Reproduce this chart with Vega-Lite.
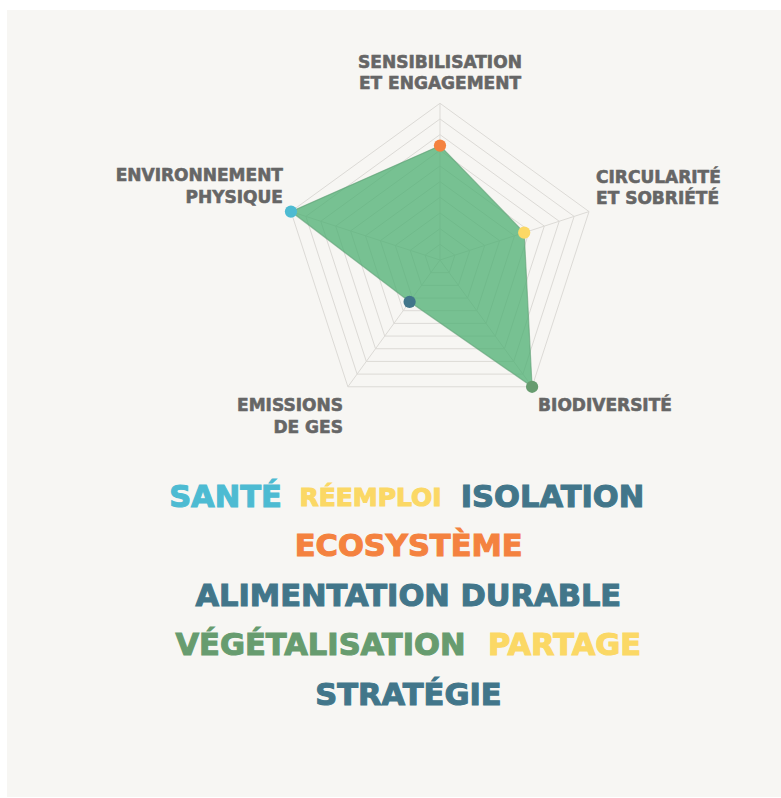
{
  "$schema": "https://vega.github.io/schema/vega-lite/v6.json",
  "width": 781,
  "height": 798,
  "autosize": {"type": "fit", "contains": "padding"},
  "padding": {"left": 7, "top": 10, "right": 0, "bottom": 1},
  "background": "#ffffff",
  "config": {"view": {"stroke": null, "fill": "#F7F6F3"}},
  "datasets": {
    "radar": [
      {"dimension": "Sensibilisation et engagement", "label": "SENSIBILISATION\nET ENGAGEMENT", "i": 0, "score": 7.3},
      {"dimension": "Circularité et sobriété", "label": "CIRCULARITÉ\nET SOBRIÉTÉ", "i": 1, "score": 5.65},
      {"dimension": "Biodiversité", "label": "BIODIVERSITÉ", "i": 2, "score": 10},
      {"dimension": "Emissions de GES", "label": "EMISSIONS\nDE GES", "i": 3, "score": 3.3},
      {"dimension": "Environnement physique", "label": "ENVIRONNEMENT\nPHYSIQUE", "i": 4, "score": 10}
    ],
    "rings": [
      {"i": 0, "levels": [1, 2, 3, 4, 5, 6, 7, 8, 9, 10]},
      {"i": 1, "levels": [1, 2, 3, 4, 5, 6, 7, 8, 9, 10]},
      {"i": 2, "levels": [1, 2, 3, 4, 5, 6, 7, 8, 9, 10]},
      {"i": 3, "levels": [1, 2, 3, 4, 5, 6, 7, 8, 9, 10]},
      {"i": 4, "levels": [1, 2, 3, 4, 5, 6, 7, 8, 9, 10]}
    ],
    "words": [
      {"word": "SANTÉ", "dimension": "Environnement physique", "line": 1, "wx": 28.23, "weight": 3},
      {"word": "RÉEMPLOI", "dimension": "Circularité et sobriété", "line": 1, "wx": 46.96, "weight": 2},
      {"word": "ISOLATION", "dimension": "Emissions de GES", "line": 1, "wx": 70.48, "weight": 3},
      {"word": "ECOSYSTÈME", "dimension": "Sensibilisation et engagement", "line": 2, "wx": 51.9, "weight": 3},
      {"word": "ALIMENTATION DURABLE", "dimension": "Emissions de GES", "line": 3, "wx": 51.85, "weight": 3},
      {"word": "VÉGÉTALISATION", "dimension": "Biodiversité", "line": 4, "wx": 40.5, "weight": 3},
      {"word": "PARTAGE", "dimension": "Circularité et sobriété", "line": 4, "wx": 72.03, "weight": 3},
      {"word": "STRATÉGIE", "dimension": "Emissions de GES", "line": 5, "wx": 51.87, "weight": 3}
    ]
  },
  "resolve": {"scale": {"x": "independent", "y": "independent"}},
  "layer": [
    {
      "encoding": {
        "x": {"type": "quantitative", "scale": {"domain": [-27.632, 21.762], "nice": false, "zero": false}, "axis": null},
        "y": {"type": "quantitative", "scale": {"domain": [-34.269, 15.954], "nice": false, "zero": false}, "axis": null}
      },
      "layer": [
        {
          "data": {"name": "rings"},
          "transform": [
            {"flatten": ["levels"], "as": ["level"]},
            {"calculate": "datum.level * sin(datum.i * 2 * PI / 5)", "as": "x"},
            {"calculate": "datum.level * cos(datum.i * 2 * PI / 5)", "as": "y"}
          ],
          "mark": {"type": "line", "interpolate": "linear-closed", "stroke": "#dcdad6", "strokeWidth": 1},
          "encoding": {
            "x": {"field": "x", "type": "quantitative"},
            "y": {"field": "y", "type": "quantitative"},
            "detail": {"field": "level", "type": "nominal"},
            "order": {"field": "i", "type": "quantitative"}
          }
        },
        {
          "data": {"name": "radar"},
          "transform": [
            {"calculate": "10 * sin(datum.i * 2 * PI / 5)", "as": "ex"},
            {"calculate": "10 * cos(datum.i * 2 * PI / 5)", "as": "ey"}
          ],
          "mark": {"type": "rule", "stroke": "#dcdad6", "strokeWidth": 1},
          "encoding": {
            "x": {"field": "ex", "type": "quantitative"},
            "y": {"field": "ey", "type": "quantitative"},
            "x2": {"datum": 0},
            "y2": {"datum": 0}
          }
        },
        {
          "data": {"name": "radar"},
          "transform": [
            {"calculate": "datum.score * sin(datum.i * 2 * PI / 5)", "as": "x"},
            {"calculate": "datum.score * cos(datum.i * 2 * PI / 5)", "as": "y"}
          ],
          "mark": {"type": "line", "interpolate": "linear-closed", "fill": "#4CAF72", "fillOpacity": 0.75, "stroke": "#5f9e74", "strokeOpacity": 0.6, "strokeWidth": 1.2},
          "encoding": {
            "x": {"field": "x", "type": "quantitative"},
            "y": {"field": "y", "type": "quantitative"},
            "order": {"field": "i", "type": "quantitative"}
          }
        },
        {
          "data": {"name": "radar"},
          "transform": [
            {"calculate": "datum.score * sin(datum.i * 2 * PI / 5)", "as": "x"},
            {"calculate": "datum.score * cos(datum.i * 2 * PI / 5)", "as": "y"}
          ],
          "mark": {"type": "point", "filled": true, "opacity": 1, "size": 150},
          "encoding": {
            "x": {"field": "x", "type": "quantitative"},
            "y": {"field": "y", "type": "quantitative"},
            "color": {
              "field": "dimension", "type": "nominal", "legend": null,
              "scale": {
                "domain": ["Sensibilisation et engagement", "Circularité et sobriété", "Biodiversité", "Emissions de GES", "Environnement physique"],
                "range": ["#F4823F", "#FBD865", "#679C6F", "#42768A", "#4DBBD2"]
              }
            }
          }
        },
        {
          "data": {"name": "radar"},
          "transform": [
            {"filter": "datum.i == 0"},
            {"calculate": "10 * sin(datum.i * 2 * PI / 5)", "as": "lx"},
            {"calculate": "10 * cos(datum.i * 2 * PI / 5)", "as": "ly"}
          ],
          "mark": {"type": "text", "align": "center", "baseline": "alphabetic", "dy": -35, "lineBreak": "\n", "lineHeight": 21, "font": "DejaVu Sans", "fontWeight": "bold", "fontSize": 17, "fill": "#666666", "stroke": "#666666", "strokeWidth": 0.6},
          "encoding": {
            "x": {"field": "lx", "type": "quantitative"},
            "y": {"field": "ly", "type": "quantitative"},
            "text": {"field": "label", "type": "nominal"}
          }
        },
        {
          "data": {"name": "radar"},
          "transform": [
            {"filter": "datum.i == 1"},
            {"calculate": "10 * sin(datum.i * 2 * PI / 5)", "as": "lx"},
            {"calculate": "10 * cos(datum.i * 2 * PI / 5)", "as": "ly"}
          ],
          "mark": {"type": "text", "align": "left", "baseline": "alphabetic", "dx": 7, "dy": -28.5, "lineBreak": "\n", "lineHeight": 20.5, "font": "DejaVu Sans", "fontWeight": "bold", "fontSize": 17, "fill": "#666666", "stroke": "#666666", "strokeWidth": 0.6},
          "encoding": {
            "x": {"field": "lx", "type": "quantitative"},
            "y": {"field": "ly", "type": "quantitative"},
            "text": {"field": "label", "type": "nominal"}
          }
        },
        {
          "data": {"name": "radar"},
          "transform": [
            {"filter": "datum.i == 2"},
            {"calculate": "10 * sin(datum.i * 2 * PI / 5)", "as": "lx"},
            {"calculate": "10 * cos(datum.i * 2 * PI / 5)", "as": "ly"}
          ],
          "mark": {"type": "text", "align": "left", "baseline": "alphabetic", "dx": 6, "dy": 24, "lineBreak": "\n", "lineHeight": 21, "font": "DejaVu Sans", "fontWeight": "bold", "fontSize": 17, "fill": "#666666", "stroke": "#666666", "strokeWidth": 0.6},
          "encoding": {
            "x": {"field": "lx", "type": "quantitative"},
            "y": {"field": "ly", "type": "quantitative"},
            "text": {"field": "label", "type": "nominal"}
          }
        },
        {
          "data": {"name": "radar"},
          "transform": [
            {"filter": "datum.i == 3"},
            {"calculate": "10 * sin(datum.i * 2 * PI / 5)", "as": "lx"},
            {"calculate": "10 * cos(datum.i * 2 * PI / 5)", "as": "ly"}
          ],
          "mark": {"type": "text", "align": "right", "baseline": "alphabetic", "dx": -5, "dy": 24, "lineBreak": "\n", "lineHeight": 22, "font": "DejaVu Sans", "fontWeight": "bold", "fontSize": 17, "fill": "#666666", "stroke": "#666666", "strokeWidth": 0.6},
          "encoding": {
            "x": {"field": "lx", "type": "quantitative"},
            "y": {"field": "ly", "type": "quantitative"},
            "text": {"field": "label", "type": "nominal"}
          }
        },
        {
          "data": {"name": "radar"},
          "transform": [
            {"filter": "datum.i == 4"},
            {"calculate": "10 * sin(datum.i * 2 * PI / 5)", "as": "lx"},
            {"calculate": "10 * cos(datum.i * 2 * PI / 5)", "as": "ly"}
          ],
          "mark": {"type": "text", "align": "right", "baseline": "alphabetic", "dx": -8, "dy": -31, "lineBreak": "\n", "lineHeight": 22, "font": "DejaVu Sans", "fontWeight": "bold", "fontSize": 17, "fill": "#666666", "stroke": "#666666", "strokeWidth": 0.6},
          "encoding": {
            "x": {"field": "lx", "type": "quantitative"},
            "y": {"field": "ly", "type": "quantitative"},
            "text": {"field": "label", "type": "nominal"}
          }
        }
      ]
    },
    {
      "data": {"name": "words"},
      "mark": {"type": "text", "align": "center", "baseline": "middle", "font": "DejaVu Sans", "fontWeight": "bold", "strokeWidth": 1.1},
      "encoding": {
        "x": {"field": "wx", "type": "quantitative", "scale": {"domain": [0, 100], "nice": false, "zero": false}, "axis": null},
        "y": {"field": "line", "type": "quantitative", "scale": {"domain": [-8.879, 7.053], "nice": false, "zero": false, "reverse": true}, "axis": null},
        "text": {"field": "word", "type": "nominal"},
        "color": {"field": "dimension", "type": "nominal", "legend": null},
        "stroke": {
          "field": "dimension", "type": "nominal", "legend": null,
          "scale": {
            "domain": ["Sensibilisation et engagement", "Circularité et sobriété", "Biodiversité", "Emissions de GES", "Environnement physique"],
            "range": ["#F4823F", "#FBD865", "#679C6F", "#42768A", "#4DBBD2"]
          }
        },
        "size": {"field": "weight", "type": "quantitative", "legend": null, "scale": {"domain": [2, 3], "range": [25, 30.5]}}
      }
    }
  ]
}
